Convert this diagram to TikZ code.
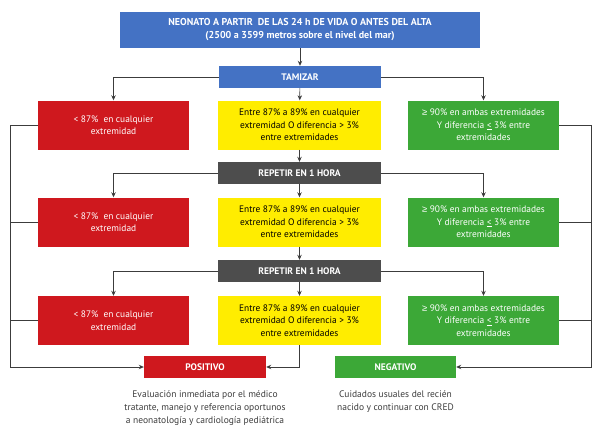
\documentclass[tikz,border=0pt]{standalone}
\usepackage{fontspec}
\setmainfont{PT Sans}
\newfontfamily\simbolos{Liberation Sans}
\usetikzlibrary{arrows.meta}

\definecolor{tamazul}{RGB}{68,114,196}
\definecolor{tamrojo}{RGB}{207,24,30}
\definecolor{tamamarillo}{RGB}{255,237,0}
\definecolor{tamverde}{RGB}{60,168,55}
\definecolor{tamgris}{RGB}{77,77,77}
\definecolor{tamlinea}{RGB}{60,60,60}

\newcommand{\mayorigual}{{\simbolos ≥}}

\tikzset{
    caja/.style={rectangle, inner sep=2pt, align=center, font=\fontsize{9.4}{12.5}\selectfont},
    cajaazul/.style={caja, fill=tamazul, text=white, font=\fontsize{9.5}{13}\selectfont\bfseries},
    cajaroja/.style={caja, fill=tamrojo, text=white, minimum width=151pt, minimum height=49pt},
    cajaamarilla/.style={caja, fill=tamamarillo, text=black, minimum width=163pt, minimum height=49pt},
    cajaverde/.style={caja, fill=tamverde, text=white, minimum width=151pt, minimum height=49pt},
    cajagris/.style={caja, fill=tamgris, text=white, minimum width=163pt, minimum height=22pt, font=\fontsize{9.5}{12}\selectfont\bfseries},
    resultado/.style={caja, text=white, minimum height=22pt, font=\fontsize{9.5}{12}\selectfont\bfseries},
    nota/.style={align=center, text=tamlinea, font=\fontsize{9.5}{12.7}\selectfont},
    conector/.style={draw=tamlinea, line width=0.7pt}
}

\begin{document}
\begin{tikzpicture}[x=1pt, y=-1pt, >={Stealth[length=5pt,width=4.5pt]}]
    \useasboundingbox (0,0) rectangle (600,436);

    \node [cajaazul, minimum width=360pt, minimum height=36pt, font=\fontsize{10}{13}\selectfont\bfseries] (neonato) at (300,30) {NEONATO A PARTIR \ DE LAS 24 h DE VIDA O ANTES DEL ALTA\\(2500 a 3599 metros sobre el nivel del mar)};
    \node [cajaazul, minimum width=162pt, minimum height=22pt] (tamizar) at (300,77) {TAMIZAR};

    % fila 1
    \node [cajaroja] (rojoA) at (113.5,125) {< 87\% \ en cualquier\\extremidad};
    \node [cajaamarilla] (amarilloA) at (299.5,125) {Entre 87\% a 89\% en cualquier\\extremidad O diferencia > 3\%\\entre extremidades};
    \node [cajaverde] (verdeA) at (483.5,125) {\mayorigual{} 90\% en ambas extremidades\\Y diferencia \underline{<} 3\% entre\\extremidades};
    \node [cajagris] (repetirA) at (299.5,173) {REPETIR EN 1 HORA};

    % fila 2
    \node [cajaroja] (rojoB) at (113.5,222) {< 87\% \ en cualquier\\extremidad};
    \node [cajaamarilla] (amarilloB) at (299.5,222) {Entre 87\% a 89\% en cualquier\\extremidad O diferencia > 3\%\\entre extremidades};
    \node [cajaverde] (verdeB) at (483.5,222) {\mayorigual{} 90\% en ambas extremidades\\Y diferencia \underline{<} 3\% entre\\extremidades};
    \node [cajagris] (repetirB) at (299.5,271) {REPETIR EN 1 HORA};

    % fila 3
    \node [cajaroja] (rojoC) at (113.5,320.5) {< 87\% \ en cualquier\\extremidad};
    \node [cajaamarilla] (amarilloC) at (299.5,320.5) {Entre 87\% a 89\% en cualquier\\extremidad O diferencia > 3\%\\entre extremidades};
    \node [cajaverde] (verdeC) at (483.5,320.5) {\mayorigual{} 90\% en ambas extremidades\\Y diferencia \underline{<} 3\% entre\\extremidades};

    % resultados
    \node [resultado, fill=tamrojo, minimum width=122pt] (positivo) at (205,367) {POSITIVO};
    \node [resultado, fill=tamverde, minimum width=121pt] (negativo) at (395.5,367) {NEGATIVO};
    \node [nota] (evaluacion) at (205,408) {Evaluación inmediata por el médico\\tratante, manejo y referencia oportunos\\a neonatología y cardiología pediátrica};
    \node [nota] (cuidados) at (395.5,401.5) {Cuidados usuales del recién\\nacido y continuar con CRED};

    \coordinate (esqizq) at (10,367);
    \coordinate (esqder) at (591,367);

    \draw [conector, ->] (neonato) -- (tamizar);
    \draw [conector, ->] (tamizar.west) -| (rojoA.north);
    \draw [conector, ->] (tamizar) -- (amarilloA);
    \draw [conector, ->] (tamizar.east) -| (verdeA.north);

    \draw [conector, ->] (amarilloA) -- (repetirA);
    \draw [conector, ->] (repetirA.west) -| (rojoB.north);
    \draw [conector, ->] (repetirA) -- (amarilloB);
    \draw [conector, ->] (repetirA.east) -| (verdeB.north);

    \draw [conector, ->] (amarilloB) -- (repetirB);
    \draw [conector, ->] (repetirB.west) -| (rojoC.north);
    \draw [conector, ->] (repetirB) -- (amarilloC);
    \draw [conector, ->] (repetirB.east) -| (verdeC.north);

    % hacia los resultados
    \draw [conector, ->] (rojoA.west) -| (esqizq) -- (positivo.west);
    \draw [conector] (rojoB.west) -- (rojoB.west -| esqizq);
    \draw [conector] (rojoC.west) -- (rojoC.west -| esqizq);
    \draw [conector, ->] (amarilloC.south) |- (positivo.east);
    \draw [conector, ->] (verdeA.east) -| (esqder) -- (negativo.east);
    \draw [conector] (verdeB.east) -- (verdeB.east -| esqder);
    \draw [conector] (verdeC.east) -- (verdeC.east -| esqder);
\end{tikzpicture}
\end{document}
